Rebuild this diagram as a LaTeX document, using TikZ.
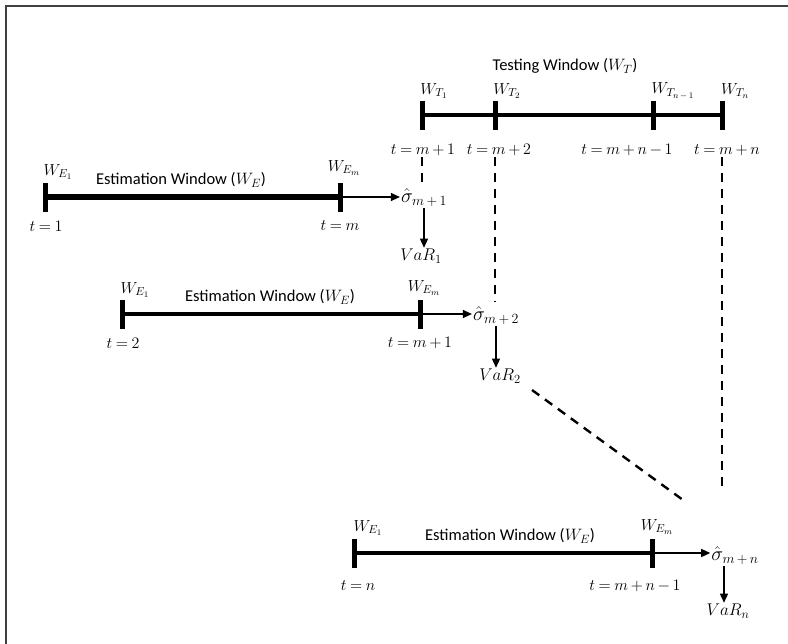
\RequirePackage{fix-cm}
\documentclass[tikz,border=0pt]{standalone}
\usepackage{fontspec}
\usepackage{amsmath}
\setmainfont{Carlito}
\usetikzlibrary{arrows.meta}
\newcommand\sbx[2]{\text{\fontsize{#1}{#1}\selectfont$#2$}}
\thickmuskip=4mu plus 2mu
\medmuskip=3mu plus 1mu
\begin{document}
\begin{tikzpicture}[x=1pt,y=-1pt,
  bar/.style={line width=4.5pt},
  tickmark/.style={line width=5pt},
  arr/.style={line width=1.3pt,-{Triangle[length=9pt,width=8pt]}},
  dashline/.style={line width=2.4pt,dash pattern=on 9pt off 7pt},
  lbl/.style={font=\fontsize{16}{19}\selectfont,inner sep=1pt},
  vlbl/.style={font=\fontsize{17}{20}\selectfont,inner sep=1pt},
  txt/.style={font=\fontsize{16.5}{20}\selectfont,inner sep=1pt},
  sig/.style={font=\fontsize{20}{24}\selectfont,inner sep=1pt},
  wlbl/.style={font=\fontsize{16}{19}\selectfont,inner sep=1pt}]
\useasboundingbox (0,0) rectangle (788,644);
\draw[line width=2.5pt,black!75] (6,644) -- (6,6) -- (788,6);

% Testing window
\coordinate (T1) at (422,115);
\coordinate (T2) at (495,115);
\coordinate (T3) at (653,115);
\coordinate (T4) at (722,115);
\draw[bar] (T1) -- (T4);
\foreach \c in {T1,T2,T3,T4} \draw[tickmark] (\c) ++(0,-14) -- ++(0,29);
\node[txt] (tw) at (565,66) {Testing Window ($W_{\sbx{12}{T}}$)};
\node[wlbl] (wt1) at (434,91) {$W_{\sbx{11.5}{T_{\sbx{8.5}{1}}}}$};
\node[wlbl] (wt2) at (507,91) {$W_{\sbx{11.5}{T_{\sbx{8.5}{2}}}}$};
\node[wlbl] (wt3) at (673,91) {$W_{\sbx{11.5}{T_{\sbx{8.5}{n-1}}}}$};
\node[wlbl] (wt4) at (735,91) {$W_{\sbx{11.5}{T_{\sbx{8.5}{n}}}}$};
\node[lbl] (tm1) at (423,150) {$t=m+1$};
\node[lbl] (tm2) at (499,150) {$t=m+2$};
\node[lbl] (tm3) at (627,150) {$t=m+n-1$};
\node[lbl] (tm4) at (727,150) {$t=m+n$};

% Window 1
\coordinate (A1) at (45,197);
\coordinate (A2) at (340,197);
\draw[line width=6.5pt] (A1) -- (A2);
\foreach \c in {A1,A2} \draw[tickmark] (\c) ++(0,-14) -- ++(0,29);
\node[wlbl] (a1w) at (58,172) {$W_{\sbx{11.5}{E_{\sbx{8.5}{1}}}}$};
\node[txt] (a1t) at (181,180) {Estimation Window ($W_{\sbx{12}{E}}$)};
\node[wlbl] (a2w) at (344,168) {$W_{\sbx{11.5}{E_{\sbx{8.5}{m}}}}$};
\node[lbl] (a1b) at (46,226) {$t=1$};
\node[lbl] (a2b) at (340,226) {$t=m$};
\node[sig] (s1) at (424,198) {$\hat{\sigma}_{\sbx{14}{m+1}}$};
\node[vlbl] (v1) at (421,256) {$VaR_{\sbx{12.5}{1}}$};
\draw[arr] (A2) -- (s1.west |- A2);
\draw[arr] (s1.south) -- (s1.south |- v1.north);

% Window 2
\coordinate (B1) at (122,314);
\coordinate (B2) at (420,314);
\draw[bar] (B1) -- (B2);
\foreach \c in {B1,B2} \draw[tickmark] (\c) ++(0,-14) -- ++(0,29);
\node[wlbl] (b1w) at (135,290) {$W_{\sbx{11.5}{E_{\sbx{8.5}{1}}}}$};
\node[txt] (b1t) at (270,297) {Estimation Window ($W_{\sbx{12}{E}}$)};
\node[wlbl] (b2w) at (424,288) {$W_{\sbx{11.5}{E_{\sbx{8.5}{m}}}}$};
\node[lbl] (b1b) at (123,343) {$t=2$};
\node[lbl] (b2b) at (420,343) {$t=m+1$};
\node[sig] (s2) at (496,316) {$\hat{\sigma}_{\sbx{14}{m+2}}$};
\node[vlbl] (v2) at (500,376) {$VaR_{\sbx{12.5}{2}}$};
\draw[arr] (B2) -- (s2.west |- B2);
\draw[arr] (s2.south) -- (s2.south |- v2.north);

% Window 3
\coordinate (C1) at (354,553);
\coordinate (C2) at (652,553);
\draw[bar] (C1) -- (C2);
\foreach \c in {C1,C2} \draw[tickmark] (\c) ++(0,-14) -- ++(0,29);
\node[wlbl] (c1w) at (368,528) {$W_{\sbx{11.5}{E_{\sbx{8.5}{1}}}}$};
\node[txt] (c1t) at (510,536) {Estimation Window ($W_{\sbx{12}{E}}$)};
\node[wlbl] (c2w) at (657,527) {$W_{\sbx{11.5}{E_{\sbx{8.5}{m}}}}$};
\node[lbl] (c1b) at (358,586) {$t=n$};
\node[lbl] (c2b) at (635,586) {$t=m+n-1$};
\node[sig] (s3) at (735,556) {$\hat{\sigma}_{\sbx{14}{m+n}}$};
\node[vlbl] (v3) at (728,611) {$VaR_{\sbx{12.5}{n}}$};
\draw[arr] (C2) -- (s3.west |- C2);
\draw[arr] (s3.south -| 724,0) -- (v3.north -| 724,0);

% dashed links
\coordinate (d1) at (422,182);
\coordinate (d2) at (495,302);
\coordinate (d4) at (722,486);
\coordinate (g1) at (532,390);
\coordinate (g2) at (683,500);
\draw[dashline] (tm1.south -| T1) -- (d1);
\draw[dashline] (tm2.south -| T2) -- (d2);
\draw[dashline] (tm4.south -| T4) -- (d4);
\draw[dashline] (g1) -- (g2);
\end{tikzpicture}
\end{document}
